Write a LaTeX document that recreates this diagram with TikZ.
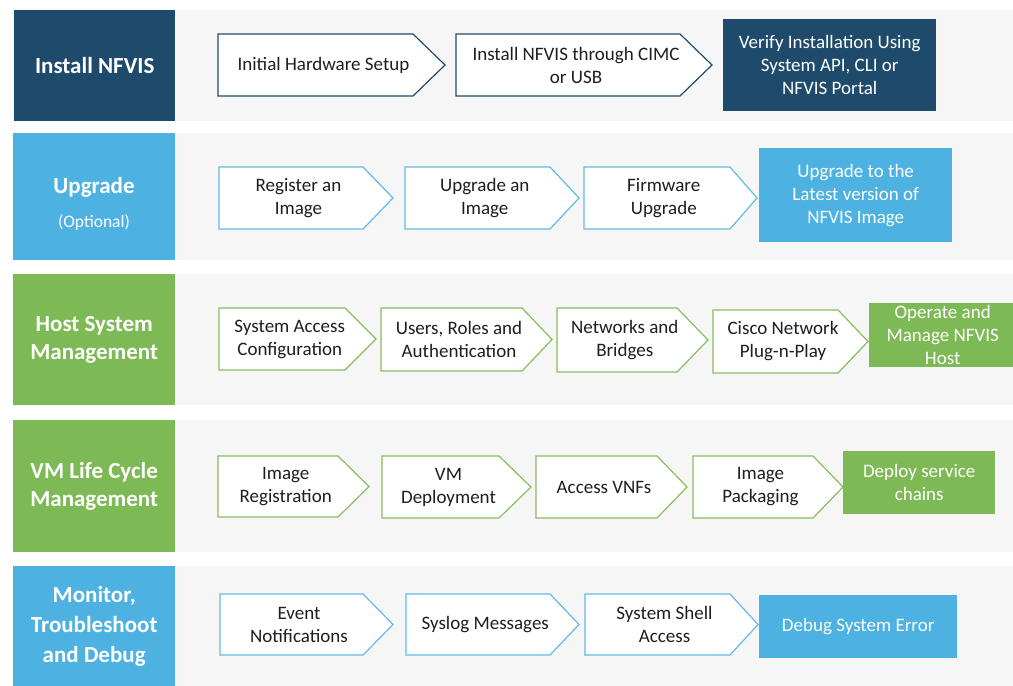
\documentclass[tikz,border=0pt]{standalone}
\usepackage{fontspec}
\setmainfont{Carlito}
\definecolor{navy}{HTML}{1E4B6B}
\definecolor{skyb}{HTML}{4DB2E2}
\definecolor{skyline}{HTML}{62BBE6}
\definecolor{leaf}{HTML}{7DB955}
\definecolor{leafline}{HTML}{86BE62}
\definecolor{band}{HTML}{F6F6F6}
\definecolor{txt}{HTML}{1E1E1E}
\tikzset{
  arrowline/.style={line width=1.2pt, fill=white, line join=miter},
  arrowtext/.style={align=center, inner sep=0pt, text=txt, font=\fontsize{19}{23}\selectfont},
  hdr/.style={anchor=north west, inner sep=0pt, align=center, text=white, font=\bfseries\fontsize{23}{28.5}\selectfont},
  endbox/.style={anchor=north west, inner sep=0pt, align=center, text=white, font=\fontsize{19}{23}\selectfont},
  bandbg/.style={fill=band, draw=none}
}
% name, x1, xs, xt, y1, y2, color, text
\newcommand\flowarrow[8]{%
  \draw[arrowline, draw=#7] (#2,#5) -- (#3,#5) -- (#4,{(#5+#6)/2}) -- (#3,#6) -- (#2,#6) -- cycle;
  \node[arrowtext] (#1) at ({(#2+(#3+#4)/2)/2},{(#5+#6)/2}) {#8};
}
\begin{document}
\begin{tikzpicture}[x=1pt,y=-1pt]
\useasboundingbox (0,0) rectangle (1013,686);
\fill[white] (0,0) rectangle (1013,686);
% bands
\fill[bandbg] (13,10) rectangle (1013,121);
\fill[bandbg] (13,133) rectangle (1013,260);
\fill[bandbg] (13,274) rectangle (1013,405);
\fill[bandbg] (13,420) rectangle (1013,552);
\fill[bandbg] (13,566) rectangle (1013,686);
% headers
\node[hdr, fill=navy, minimum width=161pt, minimum height=111pt] (h1) at (14,10) {Install NFVIS};
\node[hdr, fill=skyb, minimum width=162pt, minimum height=127pt] (h2) at (13,133) {};
\node[anchor=base, text=white, inner sep=0pt, font=\bfseries\fontsize{23}{28.5}\selectfont] (h2a) at (94,193) {Upgrade};
\node[anchor=base, text=white, inner sep=0pt, font=\fontsize{17.5}{21}\selectfont] (h2b) at (94,227) {(Optional)};
\node[hdr, fill=leaf, minimum width=162pt, minimum height=131pt] (h3) at (13,274) {Host System\\Management};
\node[hdr, fill=leaf, minimum width=162pt, minimum height=132pt] (h4) at (13,420) {VM Life Cycle\\Management};
\node[hdr, fill=skyb, minimum width=162pt, minimum height=120pt, font=\bfseries\fontsize{23}{30}\selectfont] (h5) at (13,566) {Monitor,\\Troubleshoot\\and Debug};
% row 1
\flowarrow{a11}{218}{413}{445}{34}{96}{navy}{Initial Hardware Setup}
\flowarrow{a12}{456}{680}{712}{34}{96}{navy}{Install NFVIS through CIMC\\or USB}
\node[endbox, fill=navy, minimum width=213pt, minimum height=92pt] (b1) at (723,19) {Verify Installation Using\\System API, CLI or\\NFVIS Portal};
% row 2
\flowarrow{a21}{219}{363}{393}{167}{229}{skyline}{Register an\\Image}
\flowarrow{a22}{405}{550}{579}{167}{229}{skyline}{Upgrade an\\Image}
\flowarrow{a23}{584}{730}{757}{167}{229}{skyline}{Firmware\\Upgrade}
\node[endbox, fill=skyb, minimum width=193pt, minimum height=94pt] (b2) at (759,148) {Upgrade to the\\Latest version of\\NFVIS Image};
% row 3
\flowarrow{a31}{219}{345}{376}{308}{370}{leafline}{System Access\\Configuration}
\flowarrow{a32}{381}{522}{552}{308}{371}{leafline}{Users, Roles and\\Authentication}
\flowarrow{a33}{557}{677}{708}{308}{372}{leafline}{Networks and\\Bridges}
\flowarrow{a34}{713}{838}{868}{310}{373}{leafline}{Cisco Network\\Plug-n-Play}
\node[endbox, fill=leaf, minimum width=147pt, minimum height=64pt] (b3) at (869,303) {Operate and\\Manage NFVIS\\Host};
% row 4
\flowarrow{a41}{218}{338}{369}{456}{517}{leafline}{Image\\Registration}
\flowarrow{a42}{382}{499}{531}{456}{518}{leafline}{VM\\Deployment}
\flowarrow{a43}{536}{657}{687}{456}{518}{leafline}{Access VNFs}
\flowarrow{a44}{693}{813}{843}{456}{518}{leafline}{Image\\Packaging}
\node[endbox, fill=leaf, minimum width=152pt, minimum height=63pt] (b4) at (843,451) {Deploy service\\chains};
% row 5
\flowarrow{a51}{220}{363}{393}{594}{655}{skyline}{Event\\Notifications}
\flowarrow{a52}{406}{550}{579}{594}{655}{skyline}{Syslog Messages}
\flowarrow{a53}{585}{730}{758}{594}{655}{skyline}{System Shell\\Access}
\node[endbox, fill=skyb, minimum width=198pt, minimum height=63pt] (b5) at (759,595) {Debug System Error};
\end{tikzpicture}
\end{document}
